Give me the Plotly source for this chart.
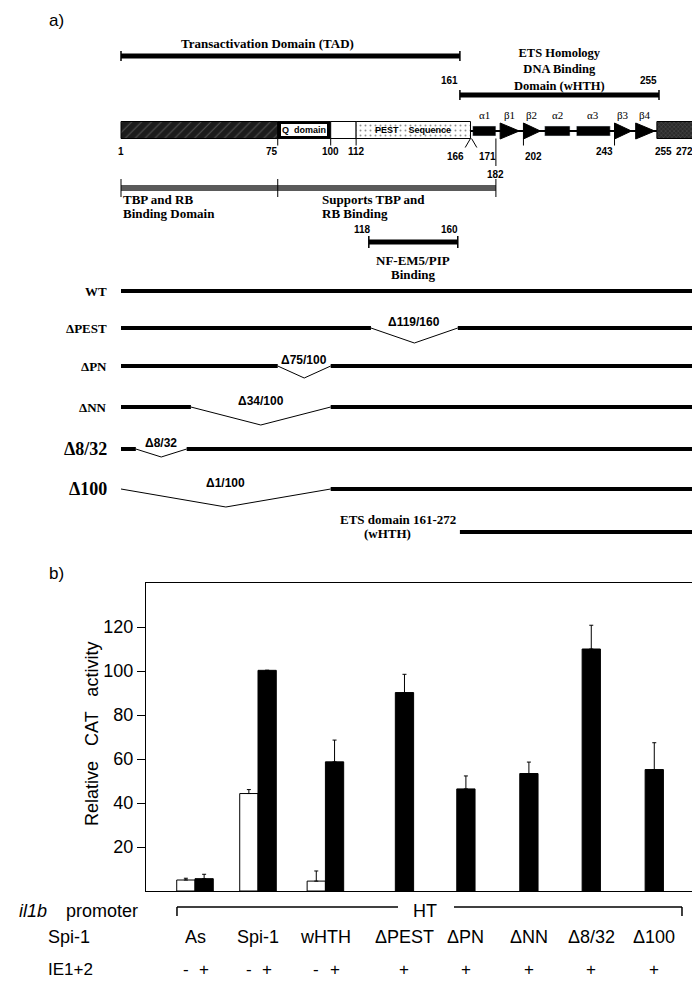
import plotly.graph_objects as go

# ======================= DATA =======================
# Panel a - Spi-1 protein map (amino-acid residue numbers, as drawn)
PROTEIN_RANGE = [1, 272]
TAD_RANGE = [1, 161]
ETS_HOMOLOGY_RANGE = [161, 255]
TBP_RB_RANGE = [1, 75]
SUPPORT_RANGE = [75, 182]
NF_EM5_RANGE = [118, 160]
WHTH_RANGE = [161, 272]

REGION_NAMES = ["N-term", "Q domain", "linker", "PEST", "C-term"]
REGION_START = [1, 75, 100, 112, 254]
REGION_END = [75, 100, 112, 166, 272]

HELIX_NAMES = ["α1", "α2", "α3"]
HELIX_START = [167, 201, 216]
HELIX_END = [178, 213, 232]
STRAND_NAMES = ["β1", "β2", "β3", "β4"]
STRAND_START = [180, 191, 234, 244]
STRAND_END = [189, 199, 242, 253]

CONSTRUCTS = ["WT", "ΔPEST", "ΔPN", "ΔNN", "Δ8/32", "Δ100"]
DEL_START = [None, 119, 75, 34, 8, 1]
DEL_END = [None, 160, 100, 100, 32, 100]
DEL_LABELS = ["", "Δ119/160", "Δ75/100", "Δ34/100", "Δ8/32", "Δ1/100"]

# Panel b - relative CAT activity
GROUPS = ["As", "Spi-1", "wHTH", "ΔPEST", "ΔPN", "ΔNN", "Δ8/32", "Δ100"]
MINUS_VALUES = [5.0, 44.3, 4.5, None, None, None, None, None]
MINUS_ERR = [0.8, 1.8, 4.6, None, None, None, None, None]
PLUS_VALUES = [5.6, 100.3, 58.7, 90.2, 46.4, 53.4, 110.0, 55.2]
PLUS_ERR = [2.0, 0.0, 9.9, 8.3, 5.9, 5.2, 10.8, 12.2]
Y_TICKS = [20, 40, 60, 80, 100, 120]

# ======================= LAYOUT CONSTANTS =======================
W, H = 700, 984
RES_PX0, RES_SCALE = 113.0, 2.1181          # residue-axis placement
X2_RANGE = [1 - RES_PX0 / RES_SCALE, 1 + (W - RES_PX0) / RES_SCALE]

# vertical rows (page pixel rows, used on the overlay y axis)
R_TAD_TXT, R_TAD = 35, 48
R_ETS_TXT = 61
R_ETS_NUM, R_ETS = 72, 87
R_SS_LBL, R_MAP, MAP_H = 107, 122, 17
R_NUM, R_NUM2, R_182_END, R_182 = 143, 148, 158, 166
R_TBP, R_TBP_TXT = 180, [191, 205]
R_NF_NUM, R_NF, R_NF_TXT = 221, 234, [252, 266]
R_CONSTR = [283, 320, 358, 399, 441, 481]
V_DEPTH = [0, 15, 12, 18, 8, 18]
R_WHTH_TXT, R_WHTH = [511, 525], 524

# panel b placement
PB_LEFT, PB_RIGHT, PB_TOP, PB_BOTTOM = 138, 694, 575, 883
SLOT_PX0, SLOT_STEP = 187.0, 63.0
GROUP_X = [0.0, 1.0, 2.07, 3.325, 4.30, 5.30, 6.29, 7.29]
BAR_W = 0.29
R_PROM, R_BRACKET, R_SPI, R_IE = 903, 899, 929, 961

SERIF = "Liberation Serif, Times New Roman, serif"
SANS = "Liberation Sans, Arial, Helvetica, sans-serif"

fig = go.Figure()
ann = []
shapes = []


def text(x, y, s, size, family=SANS, bold=False, xanchor="center",
         xref="x2", yref="y2", angle=0):
    if bold:
        s = f"<b>{s}</b>"
    ann.append(dict(x=x, y=y, xref=xref, yref=yref, text=s, showarrow=False,
                    xanchor=xanchor, yanchor="middle", textangle=angle,
                    font=dict(size=size, family=family, color="black")))


def seg(xs, ys, width, color="black"):
    fig.add_trace(go.Scatter(x=xs, y=ys, mode="lines",
                             line=dict(color=color, width=width),
                             xaxis="x2", yaxis="y2", hoverinfo="skip",
                             showlegend=False))


def domain_bar(r, y, w=5, tick=5, color="black"):
    seg([r[0], r[1]], [y, y], w, color)
    seg([r[0], r[0]], [y - tick, y + tick], 1.5, color)
    seg([r[1], r[1]], [y - tick, y + tick], 1.5, color)


# ---------------- panel a ----------------
text(48 / W, 12, "a)", 17, xref="paper")

domain_bar(TAD_RANGE, R_TAD)
text(70, R_TAD_TXT, "Transactivation Domain (TAD)", 13, SERIF, True)

domain_bar(ETS_HOMOLOGY_RANGE, R_ETS)
ann.append(dict(x=208, y=R_ETS_TXT, xref="x2", yref="y2", showarrow=False,
                text="<b>ETS Homology<br>DNA Binding<br>Domain (wHTH)</b>",
                align="center", xanchor="center", yanchor="middle",
                font=dict(size=12.5, family=SERIF, color="black")))
text(ETS_HOMOLOGY_RANGE[0], R_ETS_NUM, str(ETS_HOMOLOGY_RANGE[0]), 10, SANS, True, "right")
text(ETS_HOMOLOGY_RANGE[1], R_ETS_NUM, str(ETS_HOMOLOGY_RANGE[1]), 10, SANS, True, "right")

# connecting line through ETS region
seg([REGION_END[3], REGION_START[4]], [R_MAP + 1, R_MAP + 1], 2)

region_style = [
    dict(color="#1c1c1c", pattern=dict(shape="/", fgcolor="#8a8a8a", size=7, solidity=0.15)),
    dict(color="black"),
    dict(color="white"),
    dict(color="white", pattern=dict(shape=".", fgcolor="#222", size=5, solidity=0.12)),
    dict(color="#2a2a2a", pattern=dict(shape="x", fgcolor="#777", size=3, solidity=0.3)),
]
for i in range(len(REGION_NAMES)):
    m = dict(region_style[i])
    m["line"] = dict(color="black", width=1)
    fig.add_trace(go.Bar(orientation="h", y=[R_MAP], base=[REGION_START[i]],
                         x=[REGION_END[i] - REGION_START[i]], width=[MAP_H],
                         marker=m, xaxis="x2", yaxis="y2", hoverinfo="skip",
                         showlegend=False))
text((REGION_START[1] + REGION_END[1]) / 2, R_MAP, "Q  domain", 9, SANS, True)
ann[-1].update(bgcolor="white", bordercolor="black", borderwidth=1, borderpad=1)
text((REGION_START[3] + REGION_END[3]) / 2, R_MAP, "PEST    Sequence", 9, SANS, True)

# secondary structure
for n, s0, s1 in zip(HELIX_NAMES, HELIX_START, HELIX_END):
    fig.add_trace(go.Bar(orientation="h", y=[R_MAP + 1], base=[s0], x=[s1 - s0],
                         width=[10], marker=dict(color="black"), xaxis="x2",
                         yaxis="y2", hoverinfo="skip", showlegend=False))
    text((s0 + s1) / 2, R_SS_LBL, n, 11, SERIF)
for n, s0, s1 in zip(STRAND_NAMES, STRAND_START, STRAND_END):
    fig.add_trace(go.Scatter(x=[s0, s1, s0, s0],
                             y=[R_MAP + 1 - 8, R_MAP + 1, R_MAP + 1 + 8, R_MAP + 1 - 8],
                             fill="toself", fillcolor="black", mode="lines",
                             line=dict(color="black", width=1), xaxis="x2",
                             yaxis="y2", hoverinfo="skip", showlegend=False))
    text((s0 + s1) / 2, R_SS_LBL, n, 11, SERIF)

# residue tick marks and numbers (placed at the drawn boundaries)
bottom = R_MAP + MAP_H / 2
p182 = HELIX_END[0]
p202 = STRAND_START[1]
p243 = STRAND_START[2]
p255 = REGION_START[4]
for r in [REGION_START[1], REGION_END[1], REGION_START[3], p202, p243]:
    seg([r, r], [bottom, bottom + 7], 1)
seg([REGION_END[3], REGION_END[3] - 2.5], [bottom, bottom + 9], 1)
seg([REGION_END[3] + 0.5, REGION_END[3] + 3], [bottom, bottom + 9], 1)
seg([p182, p182], [bottom, R_182_END], 1)
text(1, R_NUM, "1", 10, SANS, True)
text(76, R_NUM, "75", 10, SANS, True, "right")
text(100, R_NUM, "100", 10, SANS, True)
text(112, R_NUM, "112", 10, SANS, True)
text(REGION_END[3] - 2, R_NUM2, "166", 10, SANS, True, "right")
text(REGION_END[3] + 3, R_NUM2, "171", 10, SANS, True, "left")
text(p182, R_182, "182", 10, SANS, True)
text(p202, R_NUM2, "202", 10, SANS, True, "left")
text(p243, R_NUM, "243", 10, SANS, True, "right")
text(p255 + 3, R_NUM, "255", 10, SANS, True)
text(272, R_NUM, "272", 10, SANS, True, "right")

# TBP / RB binding bar
seg([TBP_RB_RANGE[0], p182], [R_TBP, R_TBP], 6, "#5a5a5a")
for r in [TBP_RB_RANGE[0], TBP_RB_RANGE[1], p182]:
    seg([r, r], [R_TBP - 9, R_TBP + 9], 1)
text(1, R_TBP_TXT[0], "TBP and RB", 13, SERIF, True, "left")
text(1, R_TBP_TXT[1], "Binding Domain", 13, SERIF, True, "left")
text(95, R_TBP_TXT[0], "Supports TBP and", 13, SERIF, True, "left")
text(95, R_TBP_TXT[1], "RB Binding", 13, SERIF, True, "left")

# NF-EM5/PIP binding
domain_bar(NF_EM5_RANGE, R_NF, w=5, tick=6)
text(NF_EM5_RANGE[0] + 2, R_NF_NUM, str(NF_EM5_RANGE[0]), 10, SANS, True, "right")
text(NF_EM5_RANGE[1] + 1, R_NF_NUM, str(NF_EM5_RANGE[1]), 10, SANS, True, "right")
mid_nf = (NF_EM5_RANGE[0] + NF_EM5_RANGE[1]) / 2
text(mid_nf, R_NF_TXT[0], "NF-EM5/PIP", 13, SERIF, True)
text(mid_nf, R_NF_TXT[1], "Binding", 13, SERIF, True)

# deletion constructs
for i, name in enumerate(CONSTRUCTS):
    y = R_CONSTR[i]
    big = name in ("Δ8/32", "Δ100")
    text(-4.5, y, name, 18 if big else 13, SERIF, True, "right")
    d0, d1 = DEL_START[i], DEL_END[i]
    if d0 is None:
        seg(PROTEIN_RANGE, [y, y], 4)
        continue
    if d0 > PROTEIN_RANGE[0]:
        seg([PROTEIN_RANGE[0], d0], [y, y], 4)
    seg([d1, PROTEIN_RANGE[1]], [y, y], 4)
    mid = (d0 + d1) / 2
    seg([d0, mid, d1], [y, y + V_DEPTH[i], y], 1)
    text(mid, y - 6, DEL_LABELS[i], 12, SANS, True)

# wHTH construct
seg(WHTH_RANGE, [R_WHTH, R_WHTH], 4)
text(132, R_WHTH_TXT[0], "ETS domain 161-272", 13, SERIF, True)
text(127, R_WHTH_TXT[1], "(wHTH)", 13, SERIF, True)

# ---------------- panel b ----------------
text(48 / W, 565, "b)", 17, xref="paper")

mx, my, me = [], [], []
px, py, pe = [], [], []
for i, g in enumerate(GROUPS):
    if MINUS_VALUES[i] is not None:
        mx.append(GROUP_X[i] - BAR_W / 2)
        my.append(MINUS_VALUES[i])
        me.append(MINUS_ERR[i])
        px.append(GROUP_X[i] + BAR_W / 2)
    else:
        px.append(GROUP_X[i])
    py.append(PLUS_VALUES[i])
    pe.append(PLUS_ERR[i])

fig.add_trace(go.Bar(x=mx, y=my, width=BAR_W,
                     marker=dict(color="white", line=dict(color="black", width=1)),
                     error_y=dict(type="data", array=me, arrayminus=[0] * len(me),
                                  symmetric=False, color="black", thickness=1, width=2),
                     xaxis="x", yaxis="y", hoverinfo="skip", showlegend=False))
fig.add_trace(go.Bar(x=px, y=py, width=BAR_W,
                     marker=dict(color="black", line=dict(color="black", width=1)),
                     error_y=dict(type="data", array=pe, arrayminus=[0] * len(pe),
                                  symmetric=False, color="black", thickness=1, width=2),
                     xaxis="x", yaxis="y", hoverinfo="skip", showlegend=False))

text(84 / W, 726, "Relative   CAT   activity", 18, SANS, xref="paper", angle=-90)

# promoter row
text(9 / W, R_PROM, "<i>il1b</i>", 18, SANS, xanchor="left", xref="paper")
text(56 / W, R_PROM, "promoter", 18, SANS, xanchor="left", xref="paper")
BR_L, BR_GAP0, BR_GAP1, BR_R, HT_X = -0.286, 3.222, 4.111, 7.73, 3.651
for x0, x1, y0, y1 in [(BR_L, BR_GAP0, R_BRACKET, R_BRACKET),
                       (BR_GAP1, BR_R, R_BRACKET, R_BRACKET),
                       (BR_L, BR_L, R_BRACKET, R_BRACKET + 9),
                       (BR_R, BR_R, R_BRACKET, R_BRACKET + 9)]:
    shapes.append(dict(type="line", xref="x", yref="y2", x0=x0, x1=x1, y0=y0, y1=y1,
                       line=dict(color="black", width=1.5)))
text(HT_X, R_PROM, "HT", 18, SANS, xref="x")

text(38 / W, R_SPI, "Spi-1", 18, SANS, xanchor="left", xref="paper")
for i, g in enumerate(GROUPS):
    text(GROUP_X[i], R_SPI, g, 18, SANS, xref="x")

text(38 / W, R_IE, "IE1+2", 17, SANS, xanchor="left", xref="paper")
for x in mx:
    text(x, R_IE, "-", 17, SANS, xref="x")
for x in px:
    text(x, R_IE, "+", 17, SANS, xref="x")

x_lo = (PB_LEFT - SLOT_PX0) / SLOT_STEP
x_hi = (PB_RIGHT - SLOT_PX0) / SLOT_STEP
y_max = 140

fig.update_layout(
    width=W, height=H, margin=dict(l=0, r=0, t=0, b=0),
    paper_bgcolor="white", plot_bgcolor="rgba(0,0,0,0)",
    barmode="overlay", showlegend=False, hovermode=False,
    annotations=ann, shapes=shapes,
    xaxis=dict(domain=[PB_LEFT / W, PB_RIGHT / W], range=[x_lo, x_hi],
               showline=True, mirror=True, linecolor="black", linewidth=1.3,
               showticklabels=False, ticks="", showgrid=False, zeroline=False,
               anchor="y"),
    yaxis=dict(domain=[1 - PB_BOTTOM / H, 1 - PB_TOP / H], range=[0, y_max],
               tickvals=Y_TICKS, ticks="outside", ticklen=8, tickwidth=1.3,
               tickcolor="black", tickfont=dict(size=18, family=SANS, color="black"),
               showline=True, mirror=True, linecolor="black", linewidth=1.3,
               showgrid=False, zeroline=False, anchor="x"),
    xaxis2=dict(domain=[0, 1], range=X2_RANGE, visible=False, anchor="y2"),
    yaxis2=dict(domain=[0, 1], range=[H, 0], visible=False, anchor="x2"),
)

fig.write_html("out.html")
